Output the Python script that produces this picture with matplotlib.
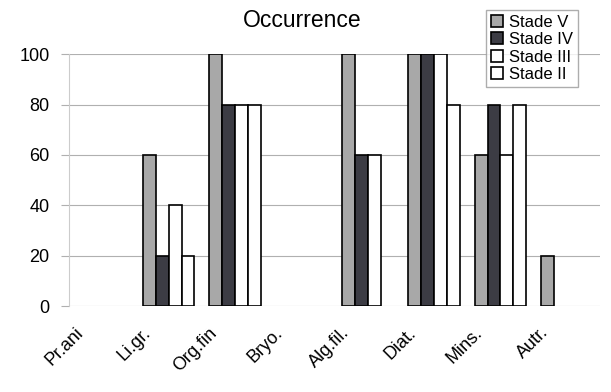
import numpy as np
import matplotlib
matplotlib.use('Agg')
import matplotlib.pyplot as plt
import matplotlib.transforms as mtransforms
from matplotlib.patches import Patch

plt.rcParams['font.family'] = ['Liberation Sans', 'DejaVu Sans']

categories = ['Pr.ani', 'Li.gr.', 'Org.fin', 'Bryo.', 'Alg.fil.', 'Diat.', 'Mins.', 'Autr.']
stade_v = [0, 60, 100, 0, 100, 100, 60, 20]
stade_iv = [0, 20, 80, 0, 60, 100, 80, 0]
stade_iii = [0, 40, 80, 0, 60, 100, 60, 0]
stade_ii = [0, 20, 80, 0, 0, 80, 80, 0]
series = [('Stade V', stade_v, '#a8a8a8'),
          ('Stade IV', stade_iv, '#3c3c44'),
          ('Stade III', stade_iii, 'white'),
          ('Stade II', stade_ii, 'white')]

fig = plt.figure(figsize=(6.11, 3.92), dpi=100)
ax = fig.add_axes([0.113, 0.219, 0.869, 0.643])

x = np.arange(len(categories))
w = 0.195
handles = []
for i, (name, vals, col) in enumerate(series):
    # zero values leave no visible bar in the original
    lw = [1.2 if v > 0 else 0 for v in vals]
    ax.bar(x + (i - 1.5) * w, vals, width=w, color=col, edgecolor='black',
           linewidth=lw, zorder=3)
    handles.append(Patch(facecolor=col, edgecolor='black', linewidth=1.2, label=name))

ax.set_xlim(-0.5, len(categories) - 0.5)
ax.set_ylim(0, 100)
ax.set_yticks([0, 20, 40, 60, 80, 100])
ax.grid(axis='y', color='#b0b0b0', linewidth=0.8, zorder=0)
for s in ['top', 'right', 'bottom']:
    ax.spines[s].set_visible(False)
ax.spines['left'].set_color('#cccccc')
ax.tick_params(axis='y', length=6, color='#b0b0b0', labelsize=13, pad=8)
ax.tick_params(axis='x', length=0, labelsize=13, pad=13)
ax.set_xticks(x)
ax.set_xticklabels(categories, rotation=45, ha='right', rotation_mode='anchor')
shift = mtransforms.ScaledTranslation(-0.27, 0, fig.dpi_scale_trans)
for lab in ax.get_xticklabels():
    lab.set_transform(lab.get_transform() + shift)

fig.text(0.494, 0.948, 'Occurrence', ha='center', va='center', fontsize=16.5)
fig.legend(handles=handles, loc='upper left', bbox_to_anchor=(0.782, 0.997), fontsize=12,
           frameon=True, fancybox=False, edgecolor='#999999',
           handlelength=0.7, handleheight=0.7, handletextpad=0.4,
           borderpad=0.3, labelspacing=0.15)

fig.savefig('out.png', dpi=100)
